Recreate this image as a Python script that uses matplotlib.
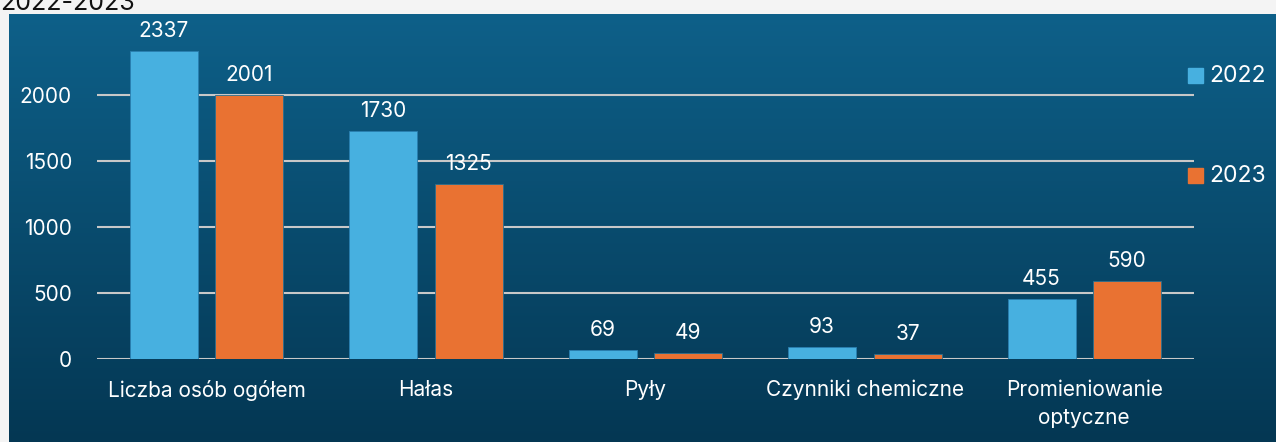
import numpy as np
import matplotlib.pyplot as plt
from matplotlib.colors import LinearSegmentedColormap

categories = ['Liczba osób ogółem', 'Hałas', 'Pyły', 'Czynniki chemiczne', 'Promieniowanie\noptyczne']
years = ['2022', '2023']
values_2022 = [2337, 1730, 69, 93, 455]
values_2023 = [2001, 1325, 49, 37, 590]
yticks = [0, 500, 1000, 1500, 2000]

c2022 = '#47b0e0'
c2023 = '#e97232'
plt.rcParams['font.family'] = ['Inter', 'DejaVu Sans']

W, H = 1276, 442
fig = plt.figure(figsize=(W / 100, H / 100), dpi=100)
fig.patch.set_facecolor('#f4f4f4')

# outer page + title remnant (cut off at top like the source)
bg = fig.add_axes([0, 0, 1, 1])
bg.axis('off')
bg.set_xlim(0, W)
bg.set_ylim(H, 0)
bg.text(0, 10, '2022-2023', fontsize=18, color='#111111', ha='left', va='baseline')

# gradient panel
panel = fig.add_axes([9 / W, 0, (W - 9) / W, (H - 14) / H])
grad = np.linspace(0, 1, 256).reshape(-1, 1)
cmap = LinearSegmentedColormap.from_list('p', ['#0e6089', '#043753'])
panel.imshow(grad, aspect='auto', cmap=cmap, extent=[0, 1, 1, 0])
panel.axis('off')

# chart
x0, x1 = 97, 1194
y_top, y_zero = 29, 359
ax = fig.add_axes([x0 / W, 1 - y_zero / H, (x1 - x0) / W, (y_zero - y_top) / H])
ax.set_facecolor('none')
x = np.arange(len(categories))
bw = 0.31
gap = 0.04
b1 = ax.bar(x - bw / 2 - gap, values_2022, bw, color=c2022, edgecolor='#2a7fb0', linewidth=0.6, label=years[0], zorder=3)
b2 = ax.bar(x + bw / 2 + gap, values_2023, bw, color=c2023, edgecolor='#2a6f90', linewidth=0.6, label=years[1], zorder=3)
for bars in (b1, b2):
    for b in bars:
        ax.annotate(f'{int(b.get_height())}', (b.get_x() + b.get_width() / 2, b.get_height()),
                    xytext=(0, 7), textcoords='offset points',
                    ha='center', va='bottom', color='white', fontsize=15)

ax.set_xlim(-0.5, len(categories) - 0.5)
ax.set_ylim(0, 2500)
ax.set_yticks(yticks)
ax.yaxis.grid(True, color='#c8c8c8', linewidth=1.5, zorder=0)
ax.set_axisbelow(True)
for s in ax.spines.values():
    s.set_visible(False)
ax.tick_params(length=0, colors='white', labelsize=15)
ax.tick_params(axis='y', pad=18)
ax.tick_params(axis='x', pad=15)
ax.set_xticks(x)
ax.set_xticklabels(categories, linespacing=1.5)

# legend
for yr, col, yy in zip(years, [c2022, c2023], [76, 176]):
    bg.add_patch(plt.Rectangle((1188, yy - 8), 15, 15, color=col, zorder=5))
    bg.text(1209, yy, yr, color='white', fontsize=16.5, va='center', ha='left', zorder=5)
bg.set_zorder(5)

fig.savefig('out.png', dpi=100)
